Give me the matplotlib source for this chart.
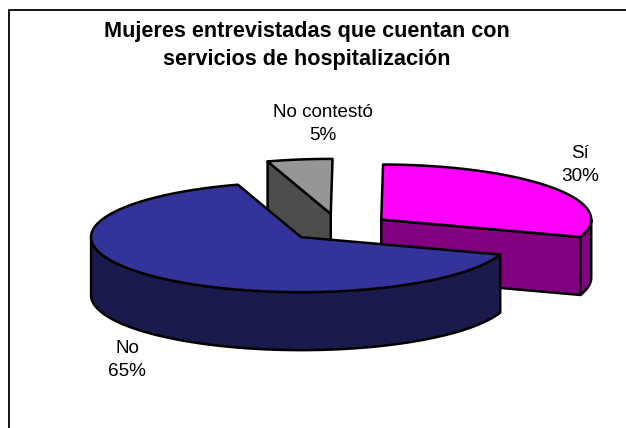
import numpy as np
import matplotlib
matplotlib.use("Agg")
import matplotlib.pyplot as plt
from matplotlib.patches import Polygon

labels = ["Sí", "No", "No contestó"]
values = [30, 65, 5]
top_colors = ["#FF00FF", "#333399", "#969696"]
side_colors = ["#800080", "#1A1A4D", "#4D4D4D"]
title = "Mujeres entrevistadas que cuentan con\nservicios de hospitalización"
draw_order = [2, 0, 1]

# layout of the projected pie, in figure pixels
CX, CY, RX, RY, DEPTH, EXPLODE, START = 338.5, 227.5, 210, 55, 58, 0.25, 89.5
LW = 1.8

plt.rcParams["font.family"] = ["Liberation Sans", "DejaVu Sans"]
fig = plt.figure(figsize=(6.26, 4.28), dpi=100)
ax = fig.add_axes([0, 0, 1, 1])
ax.set_xlim(0, 626)
ax.set_ylim(428, 0)
ax.axis("off")

# chart frame: only its left and top edges fall inside the picture
ax.plot([9, 9, 626], [428, 10, 10], color="black", lw=1.3, solid_joinstyle="miter")


def pt(cx, cy, deg):
    r = np.radians(deg)
    return cx + RX * np.cos(r), cy - RY * np.sin(r)


spans = np.array(values) / sum(values) * 360
starts = START - np.concatenate([[0], np.cumsum(spans)[:-1]])
ends = starts - spans

for i in draw_order:
    t0, t1 = starts[i], ends[i]
    mid = np.radians((t0 + t1) / 2)
    ax_x = CX + EXPLODE * RX * np.cos(mid)
    ax_y = CY - EXPLODE * RY * np.sin(mid)
    arc = np.linspace(t0, t1, 160)
    ring = np.array([pt(ax_x, ax_y, d) for d in arc])
    kw = dict(ec="black", lw=LW, joinstyle="round")

    # radial walls that face the viewer
    for t, visible in ((t0, np.cos(np.radians(t0)) < -0.05), (t1, np.cos(np.radians(t1)) > 0.05)):
        if visible:
            q = pt(ax_x, ax_y, t)
            ax.add_patch(Polygon([(ax_x, ax_y), q, (q[0], q[1] + DEPTH), (ax_x, ax_y + DEPTH)],
                                 fc=side_colors[i], **kw))
    # rim wall: front half of the arc only
    front = ring[np.sin(np.radians(arc)) <= 0]
    if len(front):
        lower = front[::-1] + [0, DEPTH]
        ax.add_patch(Polygon(np.vstack([front, lower]), fc=side_colors[i], **kw))
    # top face
    ax.add_patch(Polygon(np.vstack([[ax_x, ax_y], ring]), fc=top_colors[i], **kw))

ax.text(307, 45.5, title, ha="center", va="center", fontsize=15.6, fontweight="bold",
        linespacing=1.42, color="black")
label_pos = [(580, 165), (127, 360), (323, 124)]
for lab, val, (x, y) in zip(labels, values, label_pos):
    ax.text(x, y, f"{lab}\n{val}%", ha="center", va="center", fontsize=13.6,
            linespacing=1.52, color="black")

fig.savefig("out.png", dpi=100)
